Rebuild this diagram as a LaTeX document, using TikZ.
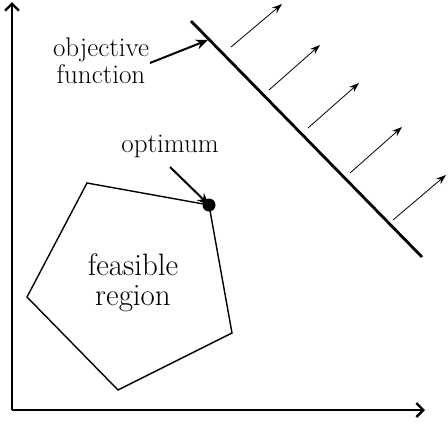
\documentclass[tikz,border=0pt]{standalone}
\usetikzlibrary{arrows.meta}
\begin{document}
\begin{tikzpicture}[x=1pt,y=-1pt,
  axis/.style={line width=2.6pt,-{Straight Barb[length=7pt,width=14pt,line width=2.4pt]}},
  objline/.style={line width=2.8pt},
  dir/.style={line width=0.8pt,-{Stealth[length=10pt,width=7pt]}},
  lbl/.style={align=center,inner sep=0pt},
  ptr/.style={line width=2pt,-{Stealth[length=12pt,width=10pt]}},
  poly/.style={line width=1.4pt,line join=miter}]
\useasboundingbox (0,0) rectangle (448,426);
% axes
\coordinate (o) at (12,410);
\coordinate (ytip) at (12,2);
\coordinate (xtip) at (425,410);
\draw[axis] (o) -- (ytip);
\draw[axis] (o) -- (xtip);
% objective line
\coordinate (l1) at (191,21);
\coordinate (l2) at (422,257);
\draw[objline] (l1) -- (l2);
% direction arrows
\foreach \i/\a/\b/\c/\d in {1/231/47/282/4, 2/269/90/320/45, 3/308/128/359/83, 4/350/173/402/127, 5/393/220/446/175}{
  \coordinate (s\i) at (\a,\b);
  \coordinate (e\i) at (\c,\d);
  \draw[dir] (s\i) -- (e\i);
}
% feasible region
\coordinate (p1) at (87,183);
\coordinate (p2) at (209,205);
\coordinate (p3) at (232,333);
\coordinate (p4) at (118,390);
\coordinate (p5) at (27,297);
\draw[poly] (p1) -- (p2) -- (p3) -- (p4) -- (p5) -- cycle;
\node[lbl,font=\fontsize{31}{30}\selectfont] (feas) at (133,283) {feasible\\region};
% optimum
\fill (p2) circle (6.5);
\node[lbl,font=\fontsize{27}{27}\selectfont] (opt) at (170,146) {optimum};
\coordinate (os) at (170,167);
\draw[ptr] (os) -- (p2);
% objective function label
\node[lbl,font=\fontsize{27}{27}\selectfont] (obj) at (101,61) {objective\\function};
\coordinate (ofs) at (150,63);
\coordinate (ofe) at (208,40);
\draw[ptr] (ofs) -- (ofe);
\end{tikzpicture}
\end{document}
